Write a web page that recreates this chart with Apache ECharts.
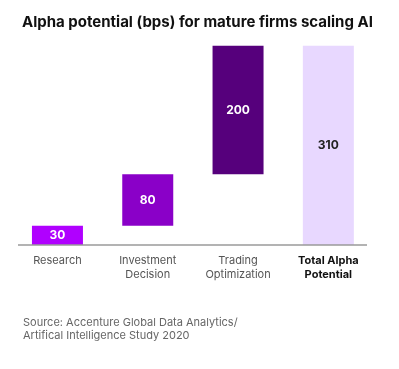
<!DOCTYPE html>
<html>
<head>
<meta charset="utf-8">
<script src="https://cdn.jsdelivr.net/npm/echarts@6/dist/echarts.min.js"></script>
<style>html,body{margin:0;padding:0;background:#fff}#c{width:399px;height:369px}</style>
</head>
<body>
<div id="c"></div>
<script>
var categories = ['Research', 'Investment\nDecision', 'Trading\nOptimization', 'Total Alpha\nPotential'];
var values = [30, 80, 200, 310];
var colors = ['#B000FF', '#8A00C8', '#56007C', '#E8D8FF'];
var labelColors = ['#ffffff', '#ffffff', '#ffffff', '#222222'];
// invisible base of the waterfall: running total before each step, total starts at 0
var bases = [0, 30, 110, 0];

var chart = echarts.init(document.getElementById('c'), null, {renderer: 'canvas'});
var font = 'Inter, Roboto, "Noto Sans", sans-serif';
chart.setOption({
  animation: false,
  backgroundColor: '#ffffff',
  title: [{
    text: 'Alpha potential (bps) for mature firms scaling AI',
    left: 17, top: 10,
    textStyle: {fontFamily: font, fontSize: 15, fontWeight: 'bold', color: '#111'}
  }, {
    text: 'Source: Accenture Global Data Analytics/\nArtifical Intelligence Study 2020',
    left: 18, top: 311,
    textStyle: {fontFamily: font, fontSize: 11, fontWeight: 'normal', color: '#666', lineHeight: 13}
  }],
  grid: {left: 12.3, right: 25.5, top: 45.7, bottom: 124, containLabel: false},
  xAxis: {
    type: 'category',
    data: categories,
    axisLine: {show: false},
    axisTick: {show: false},
    axisLabel: {
      interval: 0, hideOverlap: false,
      margin: 9, lineHeight: 14, fontSize: 11, fontFamily: font, color: '#555',
      formatter: function (v, i) { return i === 3 ? '{b|' + v.split('\n').join('}\n{b|') + '}' : v; },
      rich: {b: {fontWeight: 'bold', color: '#111', fontSize: 11, fontFamily: font, lineHeight: 14}}
    }
  },
  yAxis: {type: 'value', min: 0, max: 310, show: false, splitLine: {show: false}},
  series: [{
    type: 'bar', stack: 'w', data: bases, barWidth: 51,
    itemStyle: {color: 'transparent'}, silent: true
  }, {
    type: 'bar', stack: 'w', barWidth: 51,
    data: values.map(function (v, i) {
      return {value: v, itemStyle: {color: colors[i]},
        label: {color: labelColors[i]}};
    }),
    label: {show: true, position: 'inside', fontFamily: font, fontSize: 12, fontWeight: 'bold'}
  }],
  graphic: [{
    type: 'line', shape: {x1: 18, y1: 245, x2: 367, y2: 245},
    style: {stroke: '#9a9a9a', lineWidth: 1.5}, z: 10
  }]
});
</script>
</body>
</html>
